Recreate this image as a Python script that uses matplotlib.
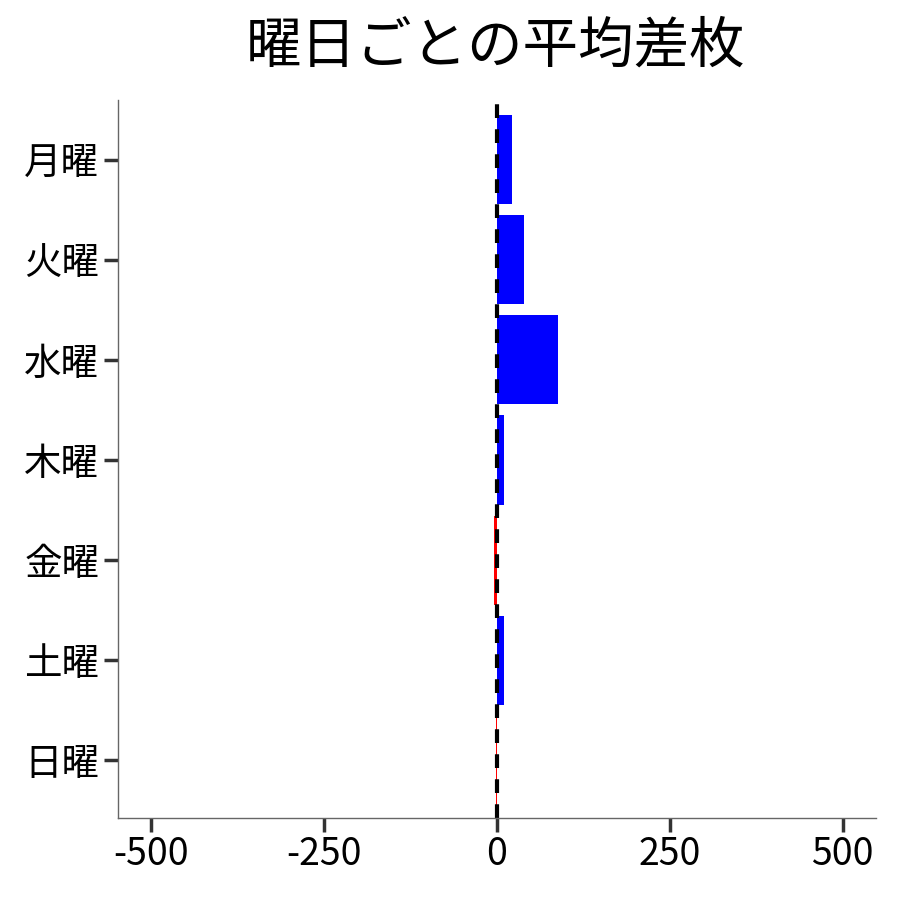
import matplotlib
matplotlib.use('Agg')
import matplotlib.pyplot as plt

plt.rcParams['font.family'] = ['Noto Sans CJK JP', 'DejaVu Sans']
plt.rcParams['axes.unicode_minus'] = False

days = ['月曜', '火曜', '水曜', '木曜', '金曜', '土曜', '日曜']
avg_diff = [22.7, 40.0, 87.8, 9.7, -4.3, 9.7, -0.8]
colors = ['blue' if v >= 0 else 'red' for v in avg_diff]

fig = plt.figure(figsize=(9, 9), dpi=100)
ax = fig.add_axes([0.131, 0.091, 0.842, 0.798])

ax.barh(range(len(days)), avg_diff, height=0.89, color=colors)
ax.axvline(0, color='black', linestyle=(0, (3.3, 2.7)), linewidth=3)

ax.set_yticks(range(len(days)))
ax.set_yticklabels(days, fontsize=27)
ax.set_ylim(6.58, -0.6)
ax.set_xlim(-548, 548)
ax.set_xticks([-500, -250, 0, 250, 500])
ax.tick_params(axis='x', labelsize=27, length=10, width=2.5, color='#333333', pad=2)
ax.tick_params(axis='y', length=10, width=2.5, color='#333333')

for s in ['top', 'right']:
    ax.spines[s].set_visible(False)
for s in ['left', 'bottom']:
    ax.spines[s].set_color('#666666')
    ax.spines[s].set_linewidth(1)

fig.text(0.551, 0.948, '曜日ごとの平均差枚', fontsize=40, ha='center', va='center')

fig.savefig('out.png', dpi=100)
